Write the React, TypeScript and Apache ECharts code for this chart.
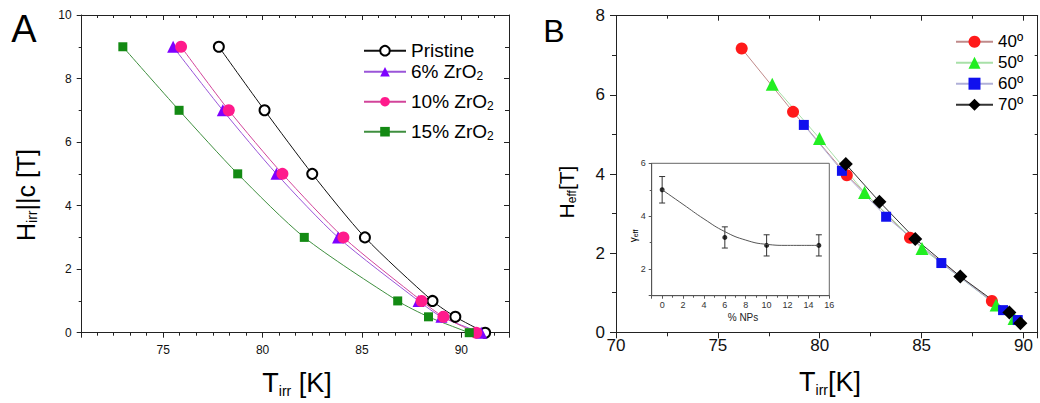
import React, { useEffect, useRef } from 'react';
import * as echarts from 'echarts';

const FONT = "'Liberation Sans', Arial, Helvetica, sans-serif";

// ---------- Panel A data ----------
const aNames = ['Pristine', '6% ZrO2', '10% ZrO2', '15% ZrO2'];
const pristineT = [77.8, 80.1, 82.5, 85.15, 88.55, 89.7, 91.2];
const pristineH = [9, 7, 5, 3, 1, 0.5, 0];
const zr6T = [75.5, 78.0, 80.7, 83.8, 87.85, 89.0, 91.0];
const zr6H = [9, 7, 5, 3, 1, 0.5, 0];
const zr10T = [75.9, 78.3, 81.0, 84.07, 88.0, 89.1, 90.75];
const zr10H = [9, 7, 5, 3, 1, 0.5, 0];
const zr15T = [72.97, 75.8, 78.75, 82.1, 86.8, 88.35, 90.4];
const zr15H = [9, 7, 5, 3, 1, 0.5, 0];

// ---------- Panel B data ----------
const bNames = ['40º', '50º', '60º', '70º'];
const b40T = [76.17, 78.69, 81.33, 84.43, 88.45];
const b40H = [7.17, 5.57, 3.97, 2.39, 0.79];
const b50T = [77.67, 79.99, 82.2, 85.02, 88.66, 89.54];
const b50H = [6.27, 4.9, 3.53, 2.12, 0.69, 0.35];
const b60T = [79.22, 81.09, 83.26, 85.97, 89.0, 89.72];
const b60H = [5.24, 4.08, 2.92, 1.75, 0.56, 0.31];
const b70T = [81.28, 82.93, 84.69, 86.9, 89.31, 89.85];
const b70H = [4.25, 3.3, 2.36, 1.41, 0.5, 0.23];

// ---------- Inset data ----------
const insetX = [0, 6, 10, 15];
const insetY = [5.0, 3.2, 2.9, 2.9];
const insetErr = [0.5, 0.4, 0.4, 0.4];
const fitX = [0, 2, 4, 6, 8, 10, 12, 15];
const fitY = [5.0, 4.45, 3.9, 3.42, 3.1, 2.94, 2.9, 2.9];

const zip = (xs: number[], ys: number[]) => xs.map((x, i) => [x, ys[i]]);

const AX = '#222';

function axis(o: any) {
  const inside = !!o.inside;
  return {
    type: 'value',
    gridIndex: o.grid,
    position: o.position,
    min: o.min,
    max: o.max,
    minInterval: o.step,
    maxInterval: o.step,
    splitLine: { show: false },
    axisLine: { show: true, onZero: false, lineStyle: { color: o.lineColor || AX, width: 1 } },
    axisTick: { show: true, inside, length: o.tickLen, lineStyle: { color: o.lineColor || AX, width: 1 } },
    minorTick: {
      show: o.minorSplit > 1,
      splitNumber: o.minorSplit,
      length: o.minorLen,
      lineStyle: { color: o.lineColor || AX, width: 1 },
    },
    axisLabel: o.labels
      ? {
          show: true,
          fontSize: o.fontSize,
          fontFamily: FONT,
          color: o.labelColor || '#111',
          margin: o.margin,
          showMinLabel: o.showMin !== false,
          showMaxLabel: o.showMax !== false,
        }
      : { show: false },
  };
}

function richTitle(main: number, lh: number, subSize: number, pad: number) {
  return {
    m: { fontSize: main, lineHeight: lh, verticalAlign: 'top', fontFamily: FONT, fill: '#000', color: '#000' },
    s: {
      fontSize: subSize,
      lineHeight: subSize,
      verticalAlign: 'top',
      padding: [pad, 0, 0, 0],
      fontFamily: FONT,
      fill: '#000',
      color: '#000',
    },
  };
}

export default function App() {
  const ref = useRef<HTMLDivElement>(null);

  useEffect(() => {
    if (!ref.current) return;
    const chart = echarts.init(ref.current, undefined, { renderer: 'svg' });

    const lineA = (name: string, xs: number[], ys: number[], symbol: string, size: number, item: any, lineColor: string) => ({
      type: 'line',
      name,
      xAxisIndex: 0,
      yAxisIndex: 0,
      data: zip(xs, ys),
      smooth: 0.25,
      symbol,
      symbolSize: size,
      showAllSymbol: true,
      itemStyle: item,
      lineStyle: { color: lineColor, width: 1 },
      emphasis: { disabled: true },
    });

    const lineB = (name: string, xs: number[], ys: number[], symbol: string, size: number, color: string, lineColor: string) => ({
      type: 'line',
      name,
      xAxisIndex: 2,
      yAxisIndex: 2,
      data: zip(xs, ys),
      smooth: false,
      symbol,
      symbolSize: size,
      showAllSymbol: true,
      itemStyle: { color },
      lineStyle: { color: lineColor, width: 1 },
      emphasis: { disabled: true },
    });

    const option: any = {
      animation: false,
      backgroundColor: '#fff',
      textStyle: { fontFamily: FONT },
      grid: [
        { left: 81.7, top: 15, width: 427.3, height: 317.7, outerBoundsMode: 'none', containLabel: false },
        { left: 616, top: 15.7, width: 421.7, height: 316.6, outerBoundsMode: 'none', containLabel: false },
        {
          left: 651.7,
          top: 163.3,
          width: 177.6,
          height: 132.4,
          show: true,
          borderColor: '#666',
          borderWidth: 1,
          backgroundColor: '#fff',
          outerBoundsMode: 'none',
          containLabel: false,
        },
      ],
      xAxis: [
        axis({ grid: 0, position: 'bottom', min: 70.9, max: 92.4, step: 5, tickLen: 5, minorSplit: 6, minorLen: 3, labels: true, fontSize: 12, margin: 11, showMin: false, showMax: false }),
        axis({ grid: 0, position: 'top', min: 70.9, max: 92.4, step: 5, tickLen: 5, minorSplit: 6, minorLen: 3, inside: true, labels: false }),
        axis({ grid: 1, position: 'bottom', min: 70, max: 90.7, step: 5, tickLen: 6, minorSplit: 2, minorLen: 4, labels: true, fontSize: 17, margin: 5, showMax: false }),
        axis({ grid: 1, position: 'top', min: 70, max: 90.7, step: 5, tickLen: 5, minorSplit: 2, minorLen: 3, inside: true, labels: false }),
        axis({ grid: 2, position: 'bottom', min: -1, max: 16, step: 2, tickLen: 3, minorSplit: 2, minorLen: 2, labels: true, fontSize: 9, margin: 5, showMin: false, labelColor: '#333', lineColor: '#555' }),
      ],
      yAxis: [
        axis({ grid: 0, position: 'left', min: 0, max: 10, step: 2, tickLen: 5, minorSplit: 2, minorLen: 3, labels: true, fontSize: 12, margin: 10 }),
        axis({ grid: 0, position: 'right', min: 0, max: 10, step: 2, tickLen: 5, minorSplit: 2, minorLen: 4, inside: true, labels: false }),
        axis({ grid: 1, position: 'left', min: 0, max: 8, step: 2, tickLen: 6, minorSplit: 2, minorLen: 4, labels: true, fontSize: 17, margin: 11 }),
        axis({ grid: 1, position: 'right', min: 0, max: 8, step: 2, tickLen: 5, minorSplit: 2, minorLen: 3, inside: true, labels: false }),
        axis({ grid: 2, position: 'left', min: 1, max: 6, step: 2, tickLen: 3, minorSplit: 2, minorLen: 2, labels: true, fontSize: 9, margin: 6, showMin: false, labelColor: '#333', lineColor: '#555' }),
      ],
      legend: [
        {
          left: 363,
          top: 41.2,
          orient: 'vertical',
          padding: 0,
          itemGap: -7,
          itemWidth: 42,
          itemHeight: 12,
          selectedMode: false,
          formatter: (n: string) => n.replace('ZrO2', 'ZrO{sub|2}'),
          textStyle: {
            fontSize: 19,
            fontFamily: FONT,
            color: '#000',
            rich: {
              sub: { fontSize: 12, lineHeight: 12, verticalAlign: 'top', padding: [17, 0, 0, 0], fontFamily: FONT, color: '#000' },
            },
          },
          data: [
            { name: aNames[0], textStyle: { lineHeight: 19 } },
            { name: aNames[1], textStyle: { lineHeight: 37 } },
            { name: aNames[2], textStyle: { lineHeight: 37 } },
            { name: aNames[3], textStyle: { lineHeight: 37 } },
          ],
        },
        {
          left: 955,
          top: 31.2,
          orient: 'vertical',
          padding: 0,
          itemGap: 0,
          itemWidth: 37,
          itemHeight: 15,
          selectedMode: false,
          textStyle: { fontSize: 17, lineHeight: 21, fontFamily: FONT, color: '#000' },
          data: bNames,
        },
      ],
      series: [
        lineA(aNames[0], pristineT, pristineH, 'circle', 10, { color: '#fff', borderColor: '#000', borderWidth: 2 }, '#111'),
        lineA(aNames[1], zr6T, zr6H, 'triangle', 12, { color: '#7f00ff' }, '#9a55d8'),
        lineA(aNames[2], zr10T, zr10H, 'circle', 12, { color: '#ff1a8c' }, '#d2449a'),
        lineA(aNames[3], zr15T, zr15H, 'rect', 9, { color: '#138a13' }, '#3f8f3f'),
        lineB(bNames[0], b40T, b40H, 'circle', 12, '#ff1a1a', '#c08a8a'),
        lineB(bNames[1], b50T, b50H, 'triangle', 13, '#22ee22', '#a8e0a8'),
        lineB(bNames[2], b60T, b60H, 'rect', 10, '#1010ee', '#b0b0d8'),
        lineB(bNames[3], b70T, b70H, 'diamond', 14, '#000', '#333'),
        {
          type: 'line',
          name: 'fit',
          xAxisIndex: 4,
          yAxisIndex: 4,
          data: zip(fitX, fitY),
          smooth: true,
          symbol: 'none',
          lineStyle: { color: '#555', width: 1 },
          emphasis: { disabled: true },
        },
        {
          type: 'custom',
          name: 'err',
          xAxisIndex: 4,
          yAxisIndex: 4,
          data: insetX.map((x, i) => [x, insetY[i] - insetErr[i], insetY[i] + insetErr[i]]),
          encode: { x: 0, y: [1, 2] },
          renderItem: (_p: any, api: any) => {
            const x = api.value(0);
            const lo = api.coord([x, api.value(1)]);
            const hi = api.coord([x, api.value(2)]);
            const w = 3;
            const st = { stroke: '#333', lineWidth: 1 };
            return {
              type: 'group',
              children: [
                { type: 'line', shape: { x1: lo[0], y1: lo[1], x2: hi[0], y2: hi[1] }, style: st },
                { type: 'line', shape: { x1: lo[0] - w, y1: lo[1], x2: lo[0] + w, y2: lo[1] }, style: st },
                { type: 'line', shape: { x1: hi[0] - w, y1: hi[1], x2: hi[0] + w, y2: hi[1] }, style: st },
              ],
            };
          },
        },
        {
          type: 'scatter',
          name: 'gamma',
          xAxisIndex: 4,
          yAxisIndex: 4,
          data: zip(insetX, insetY),
          symbol: 'circle',
          symbolSize: 5,
          itemStyle: { color: '#000' },
          emphasis: { disabled: true },
        },
      ],
      graphic: [
        { type: 'text', x: 24, y: 29, style: { text: 'A', fontSize: 38, fontFamily: FONT, fill: '#000', align: 'center', verticalAlign: 'middle' } },
        { type: 'text', x: 554, y: 31, style: { text: 'B', fontSize: 32, fontFamily: FONT, fill: '#000', align: 'center', verticalAlign: 'middle' } },
        {
          type: 'text',
          x: 297,
          y: 385,
          style: { text: '{m|T}{s|irr}{m| [K]}', rich: richTitle(27, 32, 14, 15), align: 'center', verticalAlign: 'middle', fontFamily: FONT, fill: '#000' },
        },
        {
          type: 'text',
          x: 830,
          y: 384,
          style: { text: '{m|T}{s|irr}{m|[K]}', rich: richTitle(27, 32, 14, 15), align: 'center', verticalAlign: 'middle', fontFamily: FONT, fill: '#000' },
        },
        {
          type: 'text',
          x: 28.3,
          y: 195,
          rotation: Math.PI / 2,
          style: { text: '{m|H}{s|irr}{m|||c [T]}', rich: richTitle(25, 30, 14, 12), align: 'center', verticalAlign: 'middle', fontFamily: FONT, fill: '#000' },
        },
        {
          type: 'text',
          x: 568.2,
          y: 192,
          rotation: Math.PI / 2,
          style: { text: '{m|H}{s|eff}{m|[T]}', rich: richTitle(21, 25, 12, 10), align: 'center', verticalAlign: 'middle', fontFamily: FONT, fill: '#000' },
        },
        {
          type: 'text',
          x: 634,
          y: 236,
          rotation: Math.PI / 2,
          style: { text: '{m|γ}{s|eff}', rich: richTitle(10, 12, 7, 4), align: 'center', verticalAlign: 'middle', fontFamily: FONT, fill: '#222' },
        },
        {
          type: 'text',
          x: 743,
          y: 317,
          style: { text: '% NPs', fontSize: 10, fontFamily: FONT, fill: '#222', align: 'center', verticalAlign: 'middle' },
        },
      ],
    };

    chart.setOption(option);
    return () => chart.dispose();
  }, []);

  return <div ref={ref} style={{ position: 'absolute', left: 0, top: 0, width: 1040, height: 403 }} />;
}
